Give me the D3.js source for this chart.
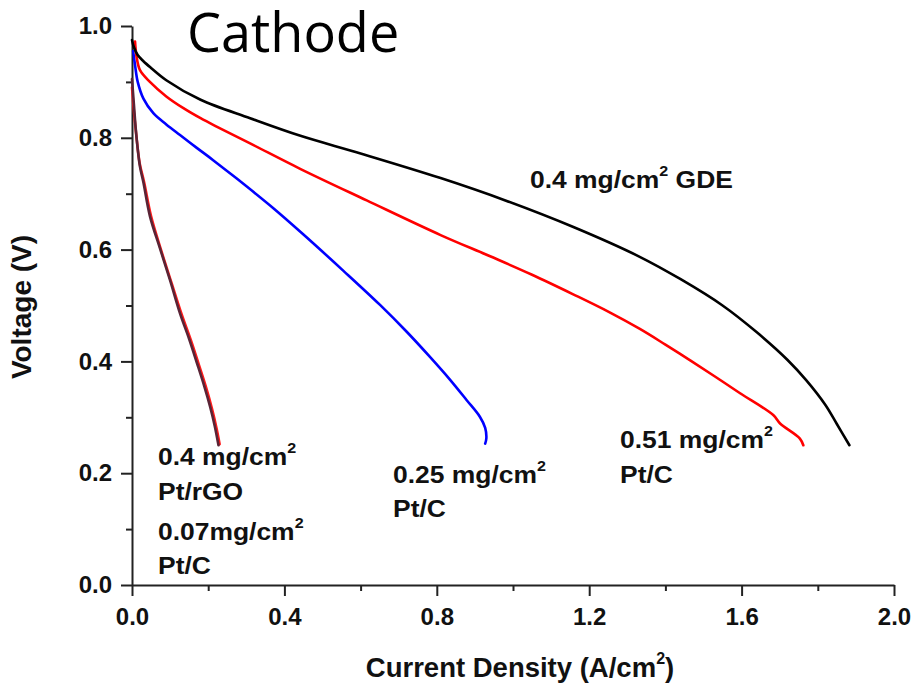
<!DOCTYPE html>
<html>
<head>
<meta charset="utf-8">
<script src="https://cdn.jsdelivr.net/npm/d3@7"></script>
<style>
  html, body { margin: 0; padding: 0; background: #fff; }
  svg { display: block; }
  .tick text { font-family: "Liberation Sans", Arial, sans-serif; font-weight: bold; }
</style>
</head>
<body>
<svg id="chart" width="914" height="685"></svg>
<script>
// Polarization curves (cell voltage vs current density) for cathode catalysts
const gdeCurrent   = [0, 0.005, 0.015, 0.03, 0.05, 0.09, 0.18, 0.31, 0.44, 0.6, 0.81, 0.98, 1.16, 1.33, 1.44, 1.55, 1.64, 1.72, 1.77, 1.82, 1.85, 1.883];
const gdeVoltage   = [0.975, 0.962, 0.948, 0.937, 0.925, 0.903, 0.868, 0.835, 0.804, 0.772, 0.728, 0.688, 0.64, 0.588, 0.547, 0.5, 0.452, 0.403, 0.366, 0.322, 0.288, 0.25];

const pt051Current = [0.008, 0.012, 0.021, 0.047, 0.09, 0.135, 0.18, 0.222, 0.31, 0.44, 0.616, 0.81, 0.94, 1.05, 1.158, 1.25, 1.333, 1.4, 1.465, 1.53, 1.596, 1.683, 1.701, 1.753, 1.762];
const pt051Voltage = [0.972, 0.945, 0.921, 0.9, 0.874, 0.853, 0.835, 0.82, 0.79, 0.745, 0.688, 0.626, 0.588, 0.555, 0.52, 0.489, 0.458, 0.43, 0.402, 0.373, 0.343, 0.304, 0.289, 0.262, 0.25];

const pt025Current = [0.003, 0.008, 0.015, 0.03, 0.056, 0.09, 0.126, 0.17, 0.213, 0.275, 0.371, 0.45, 0.555, 0.651, 0.721, 0.782, 0.835, 0.878, 0.913, 0.927, 0.93, 0.927];
const pt025Voltage = [0.955, 0.93, 0.9, 0.87, 0.844, 0.824, 0.805, 0.782, 0.76, 0.727, 0.674, 0.627, 0.562, 0.501, 0.453, 0.408, 0.367, 0.331, 0.301, 0.281, 0.262, 0.253];

const pt007Current = [0.0, 0.006, 0.012, 0.02, 0.032, 0.05, 0.076, 0.104, 0.13, 0.155, 0.175, 0.195, 0.21, 0.222, 0.23];
const pt007Voltage = [0.89, 0.84, 0.8, 0.755, 0.72, 0.66, 0.6, 0.54, 0.485, 0.437, 0.395, 0.352, 0.315, 0.28, 0.252];

const rgoCurrent   = [0, 0.005, 0.01, 0.015, 0.021, 0.03, 0.047, 0.073, 0.1, 0.126, 0.15, 0.17, 0.19, 0.205, 0.217, 0.227];
const rgoVoltage   = [0.905, 0.86, 0.815, 0.78, 0.748, 0.72, 0.66, 0.603, 0.545, 0.486, 0.44, 0.398, 0.355, 0.319, 0.285, 0.25];

const xMajorTicks = [0, 0.4, 0.8, 1.2, 1.6, 2.0];
const xMinorTicks = [0.2, 0.6, 1.0, 1.4, 1.8];
const yMajorTicks = [0, 0.2, 0.4, 0.6, 0.8, 1.0];
const yMinorTicks = [0.1, 0.3, 0.5, 0.7, 0.9];

const svg = d3.select("#chart");
const x = d3.scaleLinear().domain([0, 2]).range([132, 894]);
const y = d3.scaleLinear().domain([0, 1]).range([585, 26]);

const axisColor = "#222";

// minor ticks first (no labels, no domain)
svg.append("g").attr("transform", "translate(0,585)")
  .call(d3.axisBottom(x).tickValues(xMinorTicks).tickSize(6).tickFormat(""))
  .call(g => g.select(".domain").remove());
svg.append("g").attr("transform", "translate(132,0)")
  .call(d3.axisLeft(y).tickValues(yMinorTicks).tickSize(6).tickFormat(""))
  .call(g => g.select(".domain").remove());

svg.append("g").attr("transform", "translate(0,585)")
  .call(d3.axisBottom(x).tickValues(xMajorTicks).tickSize(11).tickSizeOuter(0).tickPadding(12).tickFormat(d3.format(".1f")));
svg.append("g").attr("transform", "translate(132,0)")
  .call(d3.axisLeft(y).tickValues(yMajorTicks).tickSize(11).tickSizeOuter(0).tickPadding(9).tickFormat(d3.format(".1f")));

svg.selectAll(".tick line, .domain").attr("stroke", axisColor).attr("stroke-width", 2);
svg.selectAll(".tick text").attr("font-size", 24).attr("fill", "#111");

// curves
const line = d3.line()
  .x(d => x(d[0]))
  .y(d => y(d[1]))
  .curve(d3.curveCatmullRom.alpha(0.5));

const series = [
  { xs: pt007Current, ys: pt007Voltage, color: "#ff1a1a" },
  { xs: rgoCurrent,   ys: rgoVoltage,   color: "#5a2436" },
  { xs: pt025Current, ys: pt025Voltage, color: "#0000ff" },
  { xs: pt051Current, ys: pt051Voltage, color: "#ff0000" },
  { xs: gdeCurrent,   ys: gdeVoltage,   color: "#000000" }
];

svg.append("g").selectAll("path")
  .data(series)
  .join("path")
  .attr("d", s => line(s.xs.map((v, i) => [v, s.ys[i]])))
  .attr("fill", "none")
  .attr("stroke", s => s.color)
  .attr("stroke-width", 2.6)
  .attr("stroke-linejoin", "round")
  .attr("stroke-linecap", "round");

// annotation helper: text with an optional superscript and trailing text
function note(px, py, before, sup, after) {
  const t = svg.append("text")
    .attr("transform", `translate(${px},${py}) scale(1.15,1)`)
    .attr("font-family", "Liberation Sans, Arial, sans-serif")
    .attr("font-weight", "bold")
    .attr("font-size", 23)
    .attr("fill", "#111");
  t.append("tspan").text(before);
  if (sup) {
    t.append("tspan").attr("font-size", 14).attr("dy", -12).text(sup);
    t.append("tspan").attr("dy", 12).text(after || "");
  }
}

note(530, 188, "0.4 mg/cm", "2", " GDE");
note(620, 448, "0.51 mg/cm", "2", "");
note(620, 483, "Pt/C");
note(393, 483, "0.25 mg/cm", "2", "");
note(393, 517, "Pt/C");
note(158, 465, "0.4 mg/cm", "2", "");
note(158, 500, "Pt/rGO");
note(158, 540, "0.07mg/cm", "2", "");
note(158, 574, "Pt/C");

// axis titles
const xt = svg.append("text")
  .attr("x", 520).attr("y", 677)
  .attr("text-anchor", "middle")
  .attr("font-family", "Liberation Sans, Arial, sans-serif")
  .attr("font-weight", "bold")
  .attr("font-size", 27.5)
  .attr("fill", "#111");
xt.append("tspan").text("Current Density (A/cm");
xt.append("tspan").attr("font-size", 16).attr("dy", -13).text("2");
xt.append("tspan").attr("dy", 13).text(")");

svg.append("text")
  .attr("transform", "translate(31,307) rotate(-90)")
  .attr("text-anchor", "middle")
  .attr("font-family", "Liberation Sans, Arial, sans-serif")
  .attr("font-weight", "bold")
  .attr("font-size", 28)
  .attr("fill", "#111")
  .text("Voltage (V)");

// panel title
svg.append("text")
  .attr("x", 187).attr("y", 52)
  .attr("font-family", "Open Sans, sans-serif")
  .attr("font-size", 54)
  .attr("fill", "#000")
  .text("Cathode");
</script>
</body>
</html>
